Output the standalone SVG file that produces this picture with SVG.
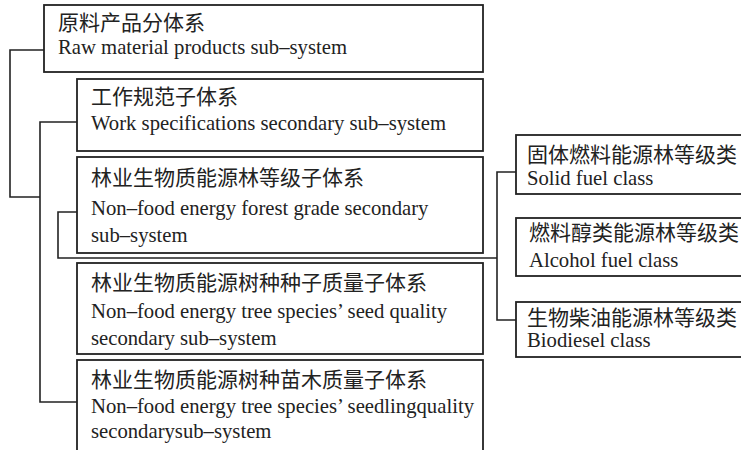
<svg xmlns="http://www.w3.org/2000/svg" width="741" height="450" viewBox="0 0 741 450">
<style>
.box{fill:#fff;stroke:#222;stroke-width:1.8}
.ln{fill:none;stroke:#222;stroke-width:1.6}
.zh{font-family:"Noto Sans CJK SC","Liberation Serif",serif;font-size:21px;fill:#222}
.en{font-family:"Liberation Serif",serif;font-size:20.7px;fill:#222}
</style>
<rect width="741" height="450" fill="#fff"/>
<g id="connectors">
<path class="ln" d="M44,50 H10 V197 H40"/>
<path class="ln" d="M77,122 H40 V402 H77"/>
<path class="ln" d="M77,212 H58 V258 H497"/>
<path class="ln" d="M516,172 H497 V320 H516"/>
</g>
<g id="n1"><rect class="box" x="44" y="5" width="439" height="67"/>
<text class="zh" x="58" y="30">原料产品分体系</text>
<text class="en" x="58" y="54">Raw material products sub–system</text></g>
<g id="n2"><rect class="box" x="77" y="79" width="406" height="72"/>
<text class="zh" x="91" y="104">工作规范子体系</text>
<text class="en" x="91" y="130">Work specifications secondary sub–system</text></g>
<g id="n3"><rect class="box" x="77" y="157" width="406" height="96"/>
<text class="zh" x="91" y="185">林业生物质能源林等级子体系</text>
<text class="en" x="91" y="215">Non–food energy forest grade secondary</text>
<text class="en" x="91" y="242">sub–system</text></g>
<g id="n4"><rect class="box" x="77" y="263" width="406" height="91"/>
<text class="zh" x="91" y="290">林业生物质能源树种种子质量子体系</text>
<text class="en" x="91" y="318">Non–food energy tree species’ seed quality</text>
<text class="en" x="91" y="345">secondary sub–system</text></g>
<g id="n5"><rect class="box" x="77" y="360" width="406" height="100"/>
<text class="zh" x="91" y="387">林业生物质能源树种苗木质量子体系</text>
<text class="en" x="91" y="413">Non–food energy tree species’ seedlingquality</text>
<text class="en" x="91" y="438">secondarysub–system</text></g>
<g id="r1"><rect class="box" x="516" y="135" width="240" height="59"/>
<text class="zh" x="527" y="162">固体燃料能源林等级类</text>
<text class="en" x="527" y="185">Solid fuel class</text></g>
<g id="r2"><rect class="box" x="516" y="218" width="240" height="58"/>
<text class="zh" x="529" y="240">燃料醇类能源林等级类</text>
<text class="en" x="529" y="267">Alcohol fuel class</text></g>
<g id="r3"><rect class="box" x="516" y="302" width="240" height="55"/>
<text class="zh" x="527" y="325">生物柴油能源林等级类</text>
<text class="en" x="527" y="347">Biodiesel class</text></g>
</svg>
